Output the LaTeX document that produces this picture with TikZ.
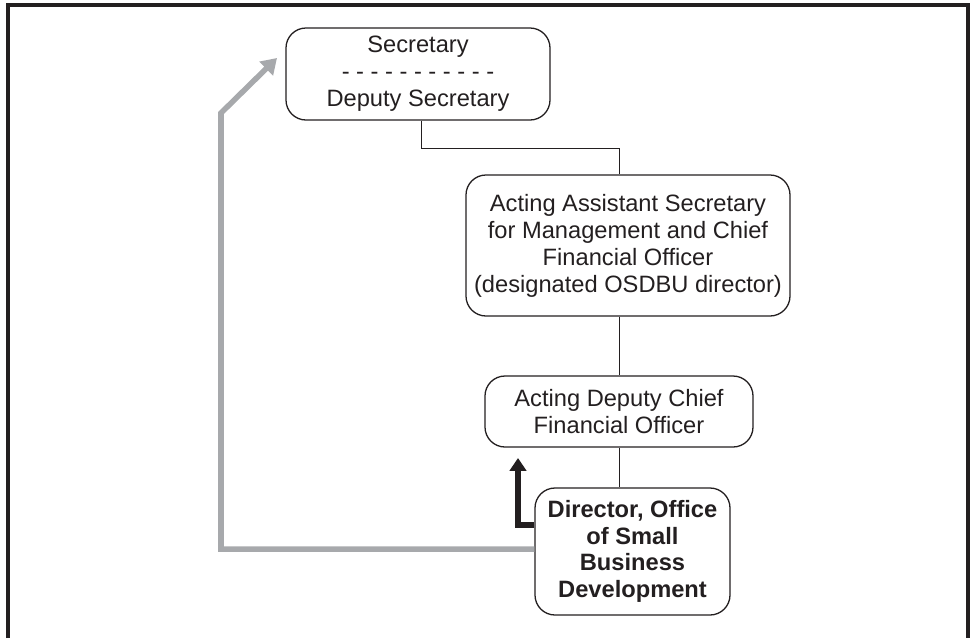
\documentclass[tikz,border=0pt]{standalone}
\usepackage{fontspec}
\setmainfont{Liberation Sans}
\usetikzlibrary{arrows.meta}
\definecolor{ink}{HTML}{231F20}
\definecolor{liaisongray}{HTML}{A7A9AC}

\begin{document}
\begin{tikzpicture}[x=0.03cm, y=-0.03cm,
        box/.style={rectangle, rounded corners=0.6cm, draw=ink, line width=1.1pt, text=ink,
            align=center, inner sep=0pt, font={\fontsize{20.2}{23}\selectfont}},
        link/.style={draw=ink, line width=0.85pt},
        boss/.style={draw=ink, line width=4.3pt, -{Triangle[length=11pt, width=14pt]}},
        liaison/.style={draw=liaisongray, line width=4.7pt, -{Triangle[length=13pt, width=16pt]}},
        outerframe/.style={draw=ink, line width=2.6pt}]

            \useasboundingbox (0, 0) rectangle (975, 638);

            %outer frame
            \draw[outerframe] (8, 638) -- (8, 5) -- (968, 5) -- (968, 638);

            %boxes
            \node[box, minimum width=7.92cm, minimum height=2.76cm] (sec) at (418, 74)
                {Secretary\\- - - - - - - - - - -\\Deputy Secretary};
            \node[box, minimum width=9.72cm, minimum height=4.23cm] (aas) at (628, 245.5)
                {Acting Assistant Secretary\\for Management and Chief\\Financial Officer\\(designated OSDBU director)};
            \node[box, minimum width=8.04cm, minimum height=2.13cm] (adc) at (619, 411.5)
                {Acting Deputy Chief\\Financial Officer};
            \node[box, minimum width=5.85cm, minimum height=3.81cm,
                font={\fontsize{20.2}{22.6}\selectfont\bfseries}] (dir) at (632.5, 551.5)
                {Director, Office\\of Small\\Business\\Development};

            %chain of command
            \draw[link] ([xshift=0.09cm]sec.south) -- ++(0, 28) -| (aas.north -| adc.north);
            \draw[link] (aas.south -| adc.north) -- (adc.north);
            \draw[link] (adc.south) -- (adc.south |- dir.north);

            %reporting arrows
            \coordinate (bosstip) at (518, 458);
            \draw[boss] ([yshift=0.795cm]dir.west) -| (bosstip);

            \coordinate (gbend) at (221, 113);
            \coordinate (gtip) at (277, 58);
            \draw[liaison] ([yshift=0.075cm]dir.west) -| (gbend) -- (gtip);
\end{tikzpicture}
\end{document}
